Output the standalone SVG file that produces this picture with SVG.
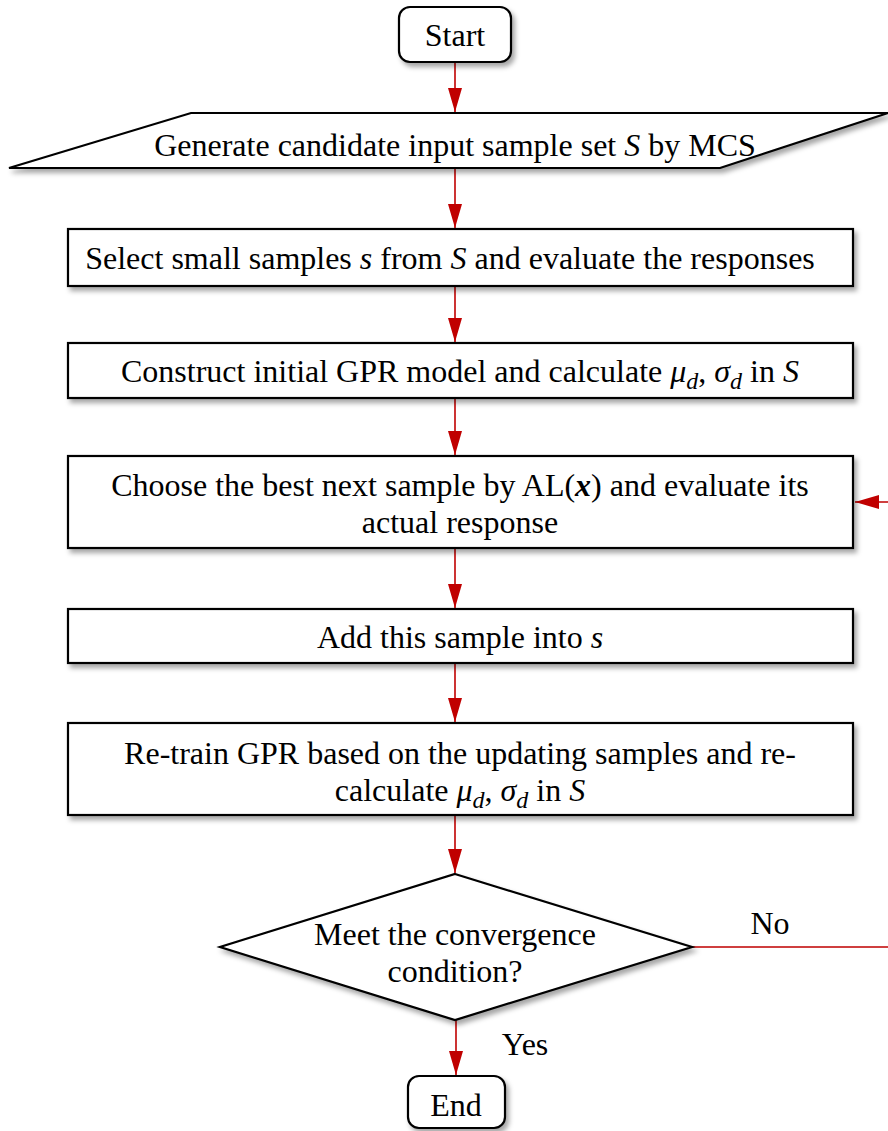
<svg xmlns="http://www.w3.org/2000/svg" width="888" height="1131" viewBox="0 0 888 1131">
<style>
.n{fill:#fff;stroke:#000;stroke-width:2.2;filter:url(#sh)}
.t{font-family:"Liberation Serif","Times New Roman",serif;font-size:32px;fill:#000;text-anchor:middle}
.i{font-style:italic}
.c{fill:none;stroke:#C00000;stroke-width:1.6}
</style>
<defs>
<filter id="sh" x="-10%" y="-20%" width="130%" height="160%">
<feDropShadow dx="3" dy="4" stdDeviation="2.5" flood-color="#000" flood-opacity="0.35"/>
</filter>
<marker id="arv" viewBox="0 0 24 14" refX="24" refY="7" markerWidth="24" markerHeight="14" markerUnits="userSpaceOnUse" orient="auto">
<path d="M0,0 L24,7 L0,14 Z" fill="#C00000"/>
</marker>
</defs>
<g id="connectors">
<path class="c" d="M455,62 V112" marker-end="url(#arv)"/>
<path class="c" d="M455,168 V228" marker-end="url(#arv)"/>
<path class="c" d="M455,286 V342" marker-end="url(#arv)"/>
<path class="c" d="M455,398 V455" marker-end="url(#arv)"/>
<path class="c" d="M455,548 V608" marker-end="url(#arv)"/>
<path class="c" d="M455,663 V722" marker-end="url(#arv)"/>
<path class="c" d="M455,815 V873" marker-end="url(#arv)"/>
<path class="c" d="M456,1020 V1075" marker-end="url(#arv)"/>
<path class="c" d="M692,947 H892 V502 H855" marker-end="url(#arv)"/>
<text class="t" x="770" y="934">No</text>
<text class="t" x="525" y="1055">Yes</text>
</g>
<g id="start">
<rect class="n" x="399" y="7" width="112" height="55" rx="11"/>
<text class="t" x="455" y="46">Start</text>
</g>
<g id="generate">
<polygon class="n" points="191,113 888,113 720,168 9,168"/>
<text class="t" x="455" y="156">Generate candidate input sample set <tspan class="i">S</tspan> by MCS</text>
</g>
<g id="select">
<rect class="n" x="68" y="229" width="785" height="57"/>
<text class="t" x="450" y="269">Select small samples <tspan class="i">s</tspan> from <tspan class="i">S</tspan> and evaluate the responses</text>
</g>
<g id="construct">
<rect class="n" x="68" y="343" width="785" height="55"/>
<text class="t" x="460" y="382">Construct initial GPR model and calculate <tspan class="i">μ</tspan><tspan class="i" font-size="24" dy="7">d</tspan><tspan dy="-7">, </tspan><tspan class="i">σ</tspan><tspan class="i" font-size="24" dy="7">d</tspan><tspan dy="-7">  in </tspan><tspan class="i">S</tspan></text>
</g>
<g id="choose">
<rect class="n" x="68" y="456" width="785" height="92"/>
<text class="t" x="460" y="496">Choose the best next sample by AL(<tspan font-weight="bold" class="i">x</tspan>) and evaluate its</text>
<text class="t" x="460" y="533">actual response</text>
</g>
<g id="add">
<rect class="n" x="68" y="609" width="785" height="54"/>
<text class="t" x="460" y="648">Add this sample into <tspan class="i">s</tspan></text>
</g>
<g id="retrain">
<rect class="n" x="68" y="723" width="785" height="92"/>
<text class="t" x="460" y="764">Re-train GPR based on the updating samples and re-</text>
<text class="t" x="460" y="801">calculate <tspan class="i">μ</tspan><tspan class="i" font-size="24" dy="7">d</tspan><tspan dy="-7">, </tspan><tspan class="i">σ</tspan><tspan class="i" font-size="24" dy="7">d</tspan><tspan dy="-7">  in </tspan><tspan class="i">S</tspan></text>
</g>
<g id="decision">
<polygon class="n" points="455,874 692,947 455,1020 220,947"/>
<text class="t" x="455" y="945">Meet the convergence</text>
<text class="t" x="455" y="982">condition?</text>
</g>
<g id="end">
<rect class="n" x="408" y="1076" width="97" height="52" rx="11"/>
<text class="t" x="456" y="1116">End</text>
</g>
</svg>
